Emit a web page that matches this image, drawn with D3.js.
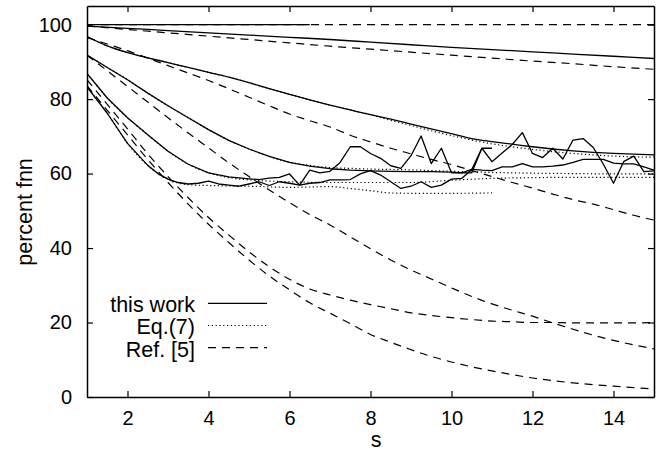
<!DOCTYPE html>
<html>
<head>
<meta charset="utf-8">
<script src="https://cdn.jsdelivr.net/npm/d3@7"></script>
<style>
  body { margin: 0; background: #fff; }
  svg { display: block; font-family: "Liberation Sans", Arial, sans-serif; }
</style>
</head>
<body>
<div id="graphics-box"></div>
<script>
// S GRIDS (X VALUES)
const sInt = [1, 2, 3, 4, 5, 6, 7, 8, 9, 10, 11, 12, 13, 14, 15];
const sHalf = [1, 1.5, 2, 2.5, 3, 3.5, 4, 4.5, 5, 5.5, 6, 6.5, 7, 7.5, 8,
  8.5, 9, 9.5, 10, 10.5, 11, 11.5, 12, 12.5, 13, 13.5, 14, 14.5, 15];

// CURVE A (TOP, 100%)
const sWorkA = [1, 1.5, 2, 2.5, 3, 3.5, 4, 4.5, 5, 5.5, 6, 6.5];
const workA = [100, 100, 100, 100, 100, 100, 100, 100, 100, 100, 100, 100];
const refA = [100, 100, 100, 100, 100, 100, 100, 100, 100, 100, 100, 100, 100, 100, 100];

// CURVE B
const workB = [99.6, 99.0, 98.4, 97.8, 97.2, 96.6, 96.0, 95.3, 94.6, 93.9, 93.3, 92.7, 92.1, 91.5, 90.9];
const refB = [99.6, 98.7, 97.8, 96.9, 96.0, 95.1, 94.2, 93.4, 92.6, 91.8, 91.0, 90.2, 89.5, 88.7, 88.0];

// CURVE C
const workC = [96.8, 94.3, 92.5, 91.1, 89.8, 88.5, 87.2, 85.9, 84.4, 82.8, 81.3, 79.8, 78.4, 77.1, 75.8,
  74.6, 73.3, 72.0, 70.7, 69.4, 68.6, 67.9, 67.2, 66.6, 66.1, 65.7, 65.4, 65.2, 65.0];
const eqC = [96.8, 94.3, 92.5, 91.1, 89.8, 88.5, 87.2, 85.9, 84.4, 82.8, 81.3, 79.8, 78.4, 77.1, 75.8,
  74.3, 72.9, 71.5, 70.2, 69.0, 68.0, 67.2, 66.5, 65.9, 65.4, 65.0, 64.7, 64.5, 64.4];
const refC = [96.5, 94.8, 93.0, 91.0, 89.0, 87.0, 85.0, 82.8, 80.5, 78.2, 76.0, 74.2, 72.5, 70.3, 68.5,
  66.8, 65.3, 63.8, 62.4, 60.8, 59.2, 57.6, 56.1, 54.5, 53.0, 51.8, 50.3, 48.8, 47.5];

// CURVE D
const sWorkD = [1, 1.5, 2, 2.5, 3, 3.5, 4, 4.5, 5, 5.5, 6, 6.5, 7, 7.5, 8, 8.5, 9, 9.5, 10,
  10.25, 10.5, 10.75, 11, 11.25, 11.5, 11.75, 12, 12.25, 12.5, 12.75, 13, 13.25, 13.5, 13.75, 14,
  14.25, 14.5, 14.75, 15];
const workD = [91.8, 88.5, 85.2, 81.6, 78.2, 75.0, 71.8, 68.9, 66.6, 64.6, 63.0, 62.0, 61.3, 60.9, 60.7, 60.6, 60.5, 60.5, 60.4,
  60.2, 61.1, 60.9, 60.8, 61.8, 61.8, 62.7, 61.8, 61.8, 62.0, 62.3, 63.0, 63.8, 63.8, 63.8, 62.8,
  62.6, 62.6, 61.8, 60.9];
const sEqD = [1, 1.5, 2, 2.5, 3, 3.5, 4, 4.5, 5, 5.5, 6, 6.5, 7, 7.5, 8, 8.5, 9, 9.5, 10, 11, 12, 13, 14, 15];
const eqD = [91.8, 88.5, 85.2, 81.6, 78.2, 75.0, 71.8, 68.9, 66.6, 64.6, 63.0, 62.2, 61.6, 61.4, 61.2, 61.1, 61.0, 60.8, 60.6,
  60.3, 60.1, 60.0, 59.9, 59.9];
const refD = [91.8, 87.6, 83.4, 79.2, 75.0, 70.9, 66.9, 62.9, 59.2, 55.6, 52.2, 49.0, 46.2, 43.0, 39.8,
  36.8, 34.1, 31.7, 29.3, 27.0, 25.0, 23.3, 21.7, 19.9, 18.2, 16.6, 15.2, 14.0, 12.9];

// CURVE E
const sWorkE = [1, 1.5, 2, 2.5, 3, 3.5, 4, 4.5, 5, 5.25, 5.5, 5.75, 6, 6.25, 6.5, 6.75, 7, 7.25, 7.5, 7.75,
  8, 8.25, 8.5, 8.75, 9, 9.25, 9.5, 9.75, 10, 10.25, 10.5, 10.75, 11, 11.25, 11.5, 11.75, 12, 12.25,
  12.5, 12.75, 13, 13.25, 13.5, 13.75, 14, 14.25, 14.5, 14.75, 15];
const workE = [86.9, 80.3, 75.0, 70.4, 66.0, 62.5, 60.2, 59.1, 58.6, 58.4, 58.8, 59.0, 59.9, 56.9, 60.9, 60.2, 60.6, 63.0, 67.2, 67.2,
  65.4, 64.1, 62.1, 61.4, 64.8, 70.1, 62.7, 66.8, 60.2, 60.2, 60.2, 66.8, 63.2, 65.5, 67.8, 71.0, 65.4, 64.3,
  66.8, 63.9, 69.0, 69.4, 67.0, 62.5, 57.4, 63.2, 64.7, 60.5, 60.7];
const sEqE = [1, 1.5, 2, 2.5, 3, 3.5, 4, 4.5, 5, 6, 7, 8, 9, 10, 11, 12, 13, 14, 15];
const eqE = [86.9, 80.3, 75.0, 70.4, 66.0, 62.5, 60.2, 58.9, 58.3, 57.8, 57.6, 57.6, 57.6, 58.2, 58.7, 58.9, 59.0, 59.0, 59.0];
const refE = [85.2, 78.6, 72.0, 65.3, 59.2, 53.5, 48.2, 43.5, 39.0, 35.0, 31.6, 29.0, 27.4, 26.0, 24.8,
  23.7, 22.6, 21.9, 21.3, 20.8, 20.4, 20.2, 20.0, 20.0, 19.9, 19.9, 19.9, 19.9, 20.0];

// CURVE F (STOPS AT S = 11)
const sWorkF = [1, 1.5, 2, 2.5, 2.75, 3, 3.25, 3.5, 3.75, 4, 4.25, 4.5, 4.75, 5, 5.25, 5.5, 5.75, 6, 6.25,
  6.5, 6.75, 7, 7.25, 7.5, 7.75, 8, 8.25, 8.5, 8.75, 9, 9.25, 9.5, 9.75, 10, 10.25, 10.5, 10.75, 11];
const workF = [83.3, 76.2, 68.1, 62.2, 60.0, 58.5, 57.6, 57.2, 57.4, 58.0, 57.2, 56.9, 56.6, 57.2, 57.8, 56.8, 57.8, 57.4, 56.9,
  57.4, 57.6, 58.3, 58.3, 58.4, 59.9, 60.8, 59.6, 57.8, 56.0, 56.6, 57.8, 56.3, 56.9, 58.5, 58.7, 61.1, 66.8, 66.8];
const sEqF = [1, 1.5, 2, 2.5, 3, 3.5, 4, 5, 6, 7, 7.5, 8, 8.5, 9, 10, 11];
const eqF = [83.3, 76.2, 68.1, 62.2, 58.5, 57.0, 56.8, 56.6, 56.3, 56.5, 56.0, 55.4, 54.8, 54.7, 54.7, 54.8];
const refF = [83.6, 77.0, 70.4, 63.8, 57.6, 51.8, 46.4, 41.5, 36.8, 32.5, 28.8, 25.3, 22.5, 19.7, 16.8,
  14.7, 12.7, 10.9, 9.4, 8.1, 7.0, 6.0, 5.1, 4.4, 3.8, 3.3, 2.9, 2.5, 2.2];

// TICKS AND LEGEND
const xTicks = [2, 4, 6, 8, 10, 12, 14];
const yTicks = [0, 20, 40, 60, 80, 100];
const legendLabels = ["this work", "Eq.(7)", "Ref. [5]"];

// LINE STYLES
const styles = {
  work: { dash: null, width: 1.3 },
  eq: { dash: "1.2,2.6", width: 1.2 },
  ref: { dash: "8,6", width: 1.2 }
};

// SERIES TABLE (DRAW ORDER: REF, EQ, WORK)
const series = [
  { s: sInt, v: refA, kind: "ref", smooth: true },
  { s: sInt, v: refB, kind: "ref", smooth: true },
  { s: sHalf, v: refC, kind: "ref", smooth: true },
  { s: sHalf, v: refD, kind: "ref", smooth: true },
  { s: sHalf, v: refE, kind: "ref", smooth: true },
  { s: sHalf, v: refF, kind: "ref", smooth: true },
  { s: sHalf, v: eqC, kind: "eq", smooth: true },
  { s: sEqD, v: eqD, kind: "eq", smooth: true },
  { s: sEqE, v: eqE, kind: "eq", smooth: true },
  { s: sEqF, v: eqF, kind: "eq", smooth: true },
  { s: sWorkA, v: workA, kind: "work", smooth: true },
  { s: sInt, v: workB, kind: "work", smooth: true },
  { s: sHalf, v: workC, kind: "work", smooth: true },
  { s: sWorkD, v: workD, kind: "work", smooth: false },
  { s: sWorkE, v: workE, kind: "work", smooth: false },
  { s: sWorkF, v: workF, kind: "work", smooth: false }
];

const w = 672;
const h = 455;
const margin = { top: 6, right: 18, bottom: 58, left: 87 };

const xScale = d3.scaleLinear()
  .domain([1, 15])
  .range([margin.left, w - margin.right]);

const yScale = d3.scaleLinear()
  .domain([0, 105])
  .range([h - margin.bottom, margin.top]);

const svg = d3.select("#graphics-box")
  .append("svg")
  .attr("width", w)
  .attr("height", h);

// CLIP SO NOTHING LEAVES THE FRAME
svg.append("clipPath")
  .attr("id", "plot-clip")
  .append("rect")
  .attr("x", margin.left)
  .attr("y", margin.top)
  .attr("width", w - margin.left - margin.right)
  .attr("height", h - margin.top - margin.bottom);

// DRAW CURVES
const plot = svg.append("g").attr("clip-path", "url(#plot-clip)");

series.forEach((ser) => {
  const pts = ser.s.map((s, i) => [s, ser.v[i]]);
  const line = d3.line()
    .x((d) => xScale(d[0]))
    .y((d) => yScale(d[1]))
    .curve(ser.smooth ? d3.curveMonotoneX : d3.curveLinear);
  plot.append("path")
    .attr("d", line(pts))
    .attr("fill", "none")
    .attr("stroke", "#000")
    .attr("stroke-width", styles[ser.kind].width)
    .attr("stroke-dasharray", styles[ser.kind].dash)
    .attr("stroke-linejoin", "round");
});

// AXES (GNUPLOT STYLE: TICKS INSIDE, MIRRORED)
const xAxis = d3.axisBottom(xScale).tickValues(xTicks)
  .tickSizeInner(-6).tickSizeOuter(0).tickPadding(14);
const yAxis = d3.axisLeft(yScale).tickValues(yTicks)
  .tickSizeInner(-6).tickSizeOuter(0).tickPadding(15);
const xTop = d3.axisTop(xScale).tickValues(xTicks)
  .tickSizeInner(-6).tickSizeOuter(0).tickFormat("");
const yRight = d3.axisRight(yScale).tickValues(yTicks)
  .tickSizeInner(-6).tickSizeOuter(0).tickFormat("");

svg.append("g")
  .attr("id", "x-axis")
  .attr("transform", "translate(0," + (h - margin.bottom) + ")")
  .call(xAxis);
svg.append("g")
  .attr("id", "y-axis")
  .attr("transform", "translate(" + margin.left + ",0)")
  .call(yAxis);
svg.append("g")
  .attr("transform", "translate(0," + margin.top + ")")
  .call(xTop);
svg.append("g")
  .attr("transform", "translate(" + (w - margin.right) + ",0)")
  .call(yRight);

svg.selectAll(".domain").attr("stroke", "#000").attr("stroke-width", 1.5);
svg.selectAll(".tick line").attr("stroke", "#000").attr("stroke-width", 1.2);
svg.selectAll(".tick text")
  .attr("fill", "#000")
  .style("font-size", "20px")
  .style("font-family", "'Liberation Sans', Arial, sans-serif");

// AXIS LABELS
svg.append("text")
  .text("s")
  .attr("x", 376)
  .attr("y", 447)
  .attr("text-anchor", "middle")
  .style("font-size", "21.5px");

svg.append("text")
  .text("percent fnn")
  .attr("transform", "translate(32,212) rotate(-90)")
  .attr("text-anchor", "middle")
  .style("font-size", "21.5px");

// LEGEND
const legendKinds = ["work", "eq", "ref"];
const legend = svg.append("g").attr("id", "legend");
legendLabels.forEach((label, i) => {
  const yText = 311.7 + i * 22.7;
  const yLine = 303.3 + i * 22.2;
  legend.append("text")
    .text(label)
    .attr("x", 195)
    .attr("y", yText)
    .attr("text-anchor", "end")
    .style("font-size", "21.5px");
  legend.append("line")
    .attr("x1", 208)
    .attr("x2", 267)
    .attr("y1", yLine)
    .attr("y2", yLine)
    .attr("stroke", "#000")
    .attr("stroke-width", styles[legendKinds[i]].width)
    .attr("stroke-dasharray", styles[legendKinds[i]].dash);
});
</script>
</body>
</html>
